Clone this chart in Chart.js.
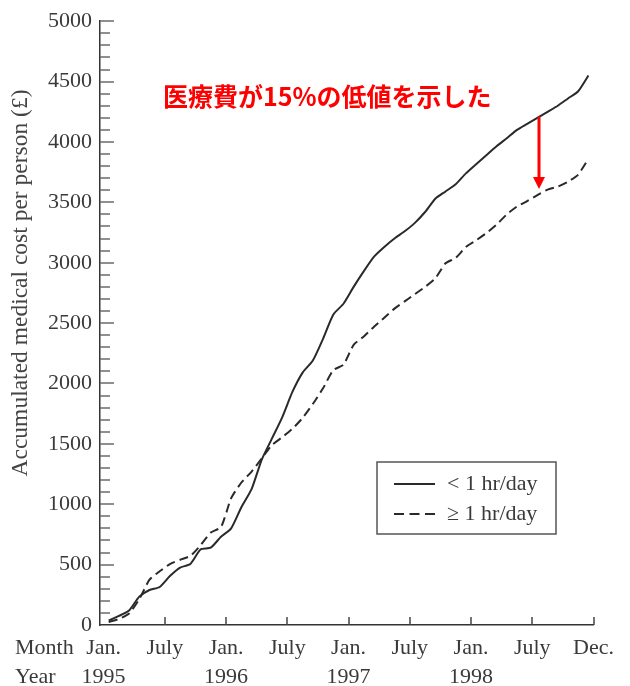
<!DOCTYPE html>
<html>
<head>
<meta charset="utf-8">
<script src="https://cdn.jsdelivr.net/npm/chart.js@4.4.1/dist/chart.umd.min.js"></script>
<style>
  html, body { margin: 0; padding: 0; background: #ffffff; }
  #wrap { width: 630px; height: 686px; }
</style>
</head>
<body>
<div id="wrap"><canvas id="c" width="630" height="686"></canvas></div>
<script>
// Month positions (0 = start of Jan. 1995, 48 = end of Dec. 1998)
const months = [
  0.5, 1.5, 2.5, 3.5, 4.5, 5.5, 6.5, 7.5, 8.5, 9.5, 10.5, 11.5,
  12.5, 13.5, 14.5, 15.5, 16.5, 17.5, 18.5, 19.5, 20.5, 21.5, 22.5, 23.5,
  24.5, 25.5, 26.5, 27.5, 28.5, 29.5, 30.5, 31.5, 32.5, 33.5, 34.5, 35.5,
  36.5, 37.5, 38.5, 39.5, 40.5, 41.5, 42.5, 43.5, 44.5, 45.5, 46.5, 47.5
];

// Accumulated medical cost per person (£), walking < 1 hr/day
const costUnder1h = [
  38, 75, 120, 235, 290, 315, 405, 475, 505, 625, 640, 730,
  800, 975, 1125, 1370, 1545, 1720, 1930, 2090, 2190, 2370, 2570, 2660,
  2800, 2930, 3050, 3130, 3200, 3260, 3330, 3420, 3530, 3590, 3650, 3740,
  3815, 3890, 3965, 4030, 4100, 4150, 4200, 4250, 4300, 4360, 4420, 4550
];

// Accumulated medical cost per person (£), walking >= 1 hr/day
const cost1hOrMore = [
  25, 50, 95, 215, 375, 445, 505, 540, 572, 660, 765, 810,
  1050, 1180, 1270, 1380, 1490, 1555, 1625, 1715, 1830, 1960, 2110, 2155,
  2320, 2390, 2470, 2545, 2620, 2680, 2740, 2800, 2870, 2995, 3040, 3130,
  3185, 3245, 3315, 3400, 3465, 3510, 3560, 3605, 3630, 3670, 3730, 3860
];

const seriesLabels = ['< 1 hr/day', '\u2265 1 hr/day'];

// Bottom axis tick labels
const xTickMonths = [0, 6, 12, 18, 24, 30, 36, 42, 48];
const xTickMonthNames = ['Jan.', 'July', 'Jan.', 'July', 'Jan.', 'July', 'Jan.', 'July', 'Dec.'];
const xTickYears = ['1995', '', '1996', '', '1997', '', '1998', '', ''];

// Left axis
const yMin = 0, yMax = 5000, yMinorStep = 100, yMajorStep = 500;
const yTitle = 'Accumulated medical cost per person (\u00a3)';

// Annotation: gap between the two groups in mid-1998
const noteText = '医療費が15%の低値を示した';
const arrowMonth = 42.7;
const arrowFrom = 4210;
const arrowTo = 3610;

const serif = "'Liberation Serif', 'DejaVu Serif', serif";
const ink = '#2a2a2a';
const textInk = '#3a3a3a';

const decorations = {
  id: 'decorations',
  afterDraw(chart) {
    const { ctx, scales: { x, y } } = chart;
    ctx.save();

    // inward tick marks on the left axis
    ctx.strokeStyle = '#6a6a6a';
    ctx.lineWidth = 1.5;
    y.ticks.forEach(t => {
      if (t.value === yMin) return;
      const py = Math.round(y.getPixelForValue(t.value));
      const len = t.value % yMajorStep === 0 ? 14 : 10;
      ctx.beginPath();
      ctx.moveTo(x.left, py);
      ctx.lineTo(x.left + len, py);
      ctx.stroke();
    });

    // inward tick marks on the bottom axis
    ctx.strokeStyle = '#444';
    xTickMonths.forEach(m => {
      if (m === 0) return;
      const px = Math.round(x.getPixelForValue(m));
      ctx.beginPath();
      ctx.moveTo(px, y.bottom);
      ctx.lineTo(px, y.bottom - 8);
      ctx.stroke();
    });

    // rotated left axis title
    ctx.fillStyle = '#444';
    ctx.font = '23.5px ' + serif;
    ctx.textAlign = 'center';
    ctx.textBaseline = 'middle';
    ctx.save();
    ctx.translate(21, 283);
    ctx.rotate(-Math.PI / 2);
    ctx.fillText(yTitle, 0, 0);
    ctx.restore();

    // row headers beside the bottom tick labels
    ctx.fillStyle = textInk;
    ctx.font = '22px ' + serif;
    ctx.textAlign = 'left';
    ctx.fillText('Month', 15, 648);
    ctx.fillText('Year', 15, 677);

    // legend box
    ctx.strokeStyle = '#555';
    ctx.lineWidth = 1.5;
    ctx.strokeRect(377, 462, 179, 72);
    const rows = [484, 514];
    chart.data.datasets.forEach((ds, i) => {
      ctx.strokeStyle = ds.borderColor;
      ctx.lineWidth = 2;
      ctx.setLineDash(i === 0 ? [] : [10, 5.5]);
      ctx.beginPath();
      ctx.moveTo(394, rows[i]);
      ctx.lineTo(435, rows[i]);
      ctx.stroke();
      ctx.setLineDash([]);
      ctx.fillStyle = textInk;
      ctx.font = '22px ' + serif;
      ctx.fillText(ds.label, 447, rows[i]);
    });

    // red annotation text and arrow
    ctx.fillStyle = '#ff0000';
    ctx.font = "bold 25px 'Noto Sans CJK JP', sans-serif";
    ctx.textAlign = 'left';
    ctx.fillText(noteText, 163, 96);

    const ax = Math.round(x.getPixelForValue(arrowMonth));
    const ay1 = y.getPixelForValue(arrowFrom);
    const ay2 = y.getPixelForValue(arrowTo);
    ctx.strokeStyle = '#ff0000';
    ctx.lineWidth = 3;
    ctx.beginPath();
    ctx.moveTo(ax, ay1);
    ctx.lineTo(ax, ay2 - 10);
    ctx.stroke();
    ctx.beginPath();
    ctx.moveTo(ax - 6, ay2 - 12);
    ctx.lineTo(ax + 6, ay2 - 12);
    ctx.lineTo(ax, ay2);
    ctx.closePath();
    ctx.fill();

    ctx.restore();
  }
};

new Chart(document.getElementById('c'), {
  type: 'line',
  data: {
    datasets: [
      {
        label: seriesLabels[0],
        data: months.map((m, i) => ({ x: m, y: costUnder1h[i] })),
        borderColor: ink,
        borderWidth: 2,
        pointRadius: 0,
        tension: 0.2,
        fill: false
      },
      {
        label: seriesLabels[1],
        data: months.map((m, i) => ({ x: m, y: cost1hOrMore[i] })),
        borderColor: ink,
        borderWidth: 2,
        borderDash: [9, 5],
        pointRadius: 0,
        tension: 0.2,
        fill: false
      }
    ]
  },
  options: {
    responsive: false,
    devicePixelRatio: 1,
    animation: false,
    events: [],
    layout: { padding: { top: 17, right: 36.5, left: 0, bottom: 0 } },
    plugins: {
      legend: { display: false },
      tooltip: { enabled: false }
    },
    scales: {
      x: {
        type: 'linear',
        min: -0.35,
        max: 48,
        afterFit(scale) { scale.height = 61; },
        afterBuildTicks(scale) { scale.ticks = xTickMonths.map(v => ({ value: v })); },
        grid: { display: false, drawTicks: false },
        border: { display: true, color: '#333', width: 1.5 },
        ticks: {
          autoSkip: false,
          maxRotation: 0,
          padding: 9,
          color: textInk,
          font: { family: serif, size: 22, lineHeight: 1.32 },
          callback(value) {
            const i = xTickMonths.indexOf(value);
            if (i < 0) return '';
            return xTickYears[i] ? [xTickMonthNames[i], xTickYears[i]] : xTickMonthNames[i];
          }
        }
      },
      y: {
        type: 'linear',
        min: yMin,
        max: yMax,
        afterFit(scale) { scale.width = 100; },
        grid: { display: false, drawTicks: false },
        border: { display: true, color: '#333', width: 1.5 },
        ticks: {
          stepSize: yMinorStep,
          autoSkip: false,
          padding: 8,
          color: textInk,
          font: { family: serif, size: 22 },
          callback(value) { return value % yMajorStep === 0 ? String(value) : ''; }
        }
      }
    }
  },
  plugins: [decorations]
});
</script>
</body>
</html>
